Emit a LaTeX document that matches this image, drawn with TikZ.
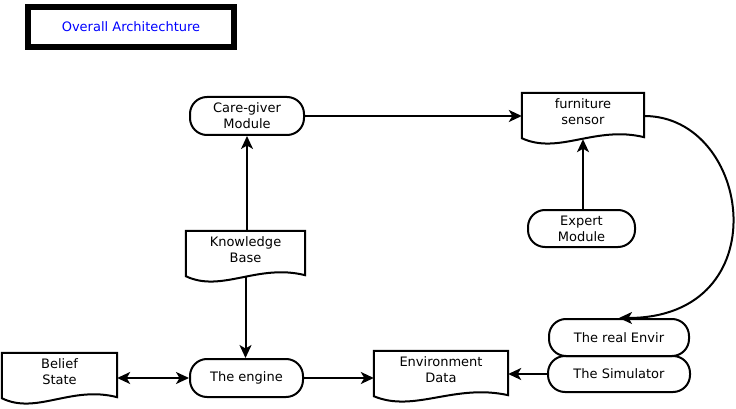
\documentclass[tikz,border=0pt]{standalone}
\usepackage{fontspec}
\setmainfont{DejaVu Sans}
\usetikzlibrary{calc,arrows.meta}
\tikzset{
  txt/.style={font=\fontsize{13}{16}\selectfont, align=center, text=black},
  pill/.style={txt, draw, line width=2pt, rounded corners=17pt, inner sep=0pt},
  docnode/.style={txt, inner sep=0pt, minimum height=38pt},
  docline/.style={draw, line width=2pt, line join=miter},
  tip/.tip={Stealth[length=13pt,width=12pt,inset=3.5pt]},
  arr/.style={line width=2pt, -tip},
  biarr/.style={line width=2pt, tip-tip},
}
\newcommand{\docoutline}[1]{%
  \path[docline] (#1.north west) -- (#1.north east) -- ($(#1.south east)+(0,6)$)
    .. controls ($(#1.south east)!0.4!(#1.south west)+(0,-6)$) and ($(#1.south east)!0.7!(#1.south west)+(0,24)$)
    .. ($(#1.south west)+(0,7)$) -- cycle;}
\begin{document}
\begin{tikzpicture}[x=1pt,y=-1pt]
\useasboundingbox (0,0) rectangle (736,409);
% title
\node[draw, line width=6pt, minimum width=206pt, minimum height=40pt, inner sep=0pt,
      font=\fontsize{13}{16}\selectfont, text=blue] (title) at (131,27) {Overall Architechture};
% pills
\node[pill, minimum width=114pt, minimum height=38pt] (cg) at (247,116) {Care-giver\\Module};
\node[pill, minimum width=107pt, minimum height=37pt] (ex) at (581.5,228.5) {Expert\\Module};
\node[pill, minimum width=113pt, minimum height=38pt] (eng) at (246.5,378) {The engine};
\node[pill, minimum width=140pt, minimum height=37pt] (re) at (619,337.5) {The real Envir};
\node[pill, minimum width=142pt, minimum height=36pt] (sim) at (619,374) {The Simulator};
% documents
\node[docnode, minimum width=122pt] (fs) at (583,112) {furniture\\sensor};
\node[docnode, minimum width=119pt] (kb) at (245.5,250) {Knowledge\\Base};
\node[docnode, minimum width=115pt] (bs) at (59.5,372) {Belief\\State};
\node[docnode, minimum width=134pt] (ed) at (441,370) {Environment\\Data};
\docoutline{fs}
\docoutline{kb}
\docoutline{bs}
\docoutline{ed}
% connectors
\draw[arr] (cg.east) -- (cg.east -| fs.west);
\draw[arr] (ex.north -| fs.south) -- ($(fs.south)+(0,8)$);
\draw[arr] (kb.north -| cg.south) -- (cg.south);
\draw[arr] ($(kb.south)+(0,8)$) -- (kb.south |- eng.north);
\draw[biarr] (eng.west -| bs.east) -- (eng.west);
\draw[arr] (eng.east) -- (eng.east -| ed.west);
\draw[arr] (sim.west) -- (sim.west -| ed.east);
\draw[arr] (fs.east |- cg.east) .. controls (752,116) and (780,318) .. (re.north);
\end{tikzpicture}
\end{document}
